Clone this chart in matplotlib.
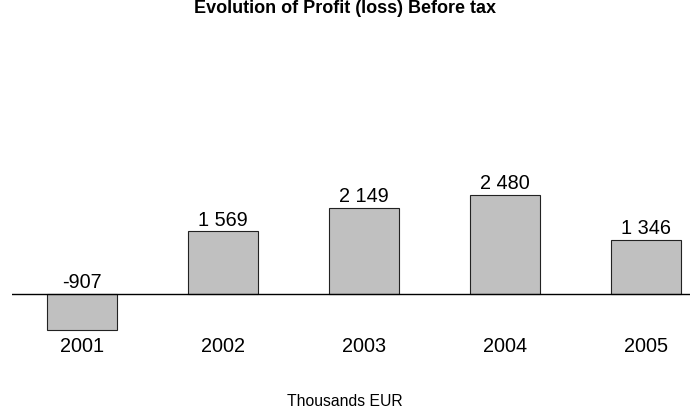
import matplotlib
matplotlib.use("Agg")
import matplotlib.pyplot as plt

plt.rcParams['font.family'] = ['Liberation Sans', 'DejaVu Sans']

years = ['2001', '2002', '2003', '2004', '2005']
profit = [-907, 1569, 2149, 2480, 1346]

fig = plt.figure(figsize=(6.9, 4.1), dpi=100)
# axes run a little past the right edge, like the original export
ax = fig.add_axes([11.5 / 690, 0, 705 / 690, 1])
ax.set_xlim(-0.5, len(years) - 0.5)
ax.set_ylim(-2875, 7375)
ax.axis('off')

x = range(len(years))
ax.bar(x, profit, width=0.5, color='#c0c0c0', edgecolor='#222222', linewidth=0.8, zorder=2)
ax.axhline(0, color='black', linewidth=1, zorder=3)

for i, v in zip(x, profit):
    label = f"{v:,}".replace(",", " ")
    ax.annotate(label, (i, max(v, 0)), xytext=(0, 4.8), textcoords='offset points',
                ha='center', va='baseline', fontsize=14.3)
    ax.annotate(years[i], (i, 0), xytext=(0, -41), textcoords='offset points',
                ha='center', va='baseline', fontsize=14.3)

fig.text(0.5, 1 - 13 / 410, 'Evolution of Profit (loss) Before tax', ha='center',
         va='baseline', fontsize=13, fontweight='bold')
fig.text(0.5, 4 / 410, 'Thousands EUR', ha='center', va='baseline', fontsize=11.3)

fig.savefig('out.png', dpi=100)
